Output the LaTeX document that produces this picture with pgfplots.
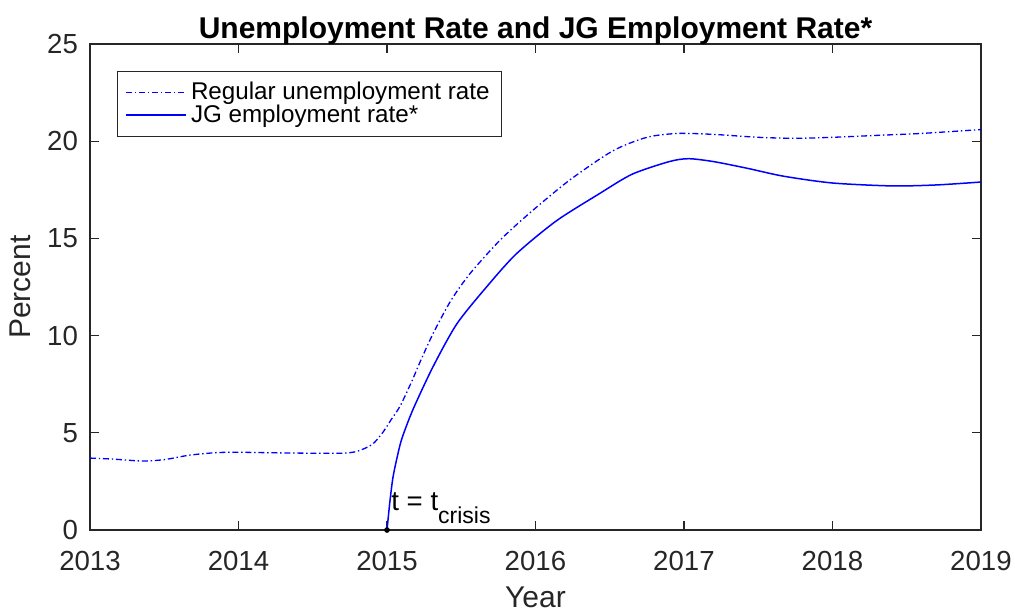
\documentclass[border=0pt]{standalone}
\usepackage{fontspec}
\setmainfont{Liberation Sans}
\usepackage{pgfplots}
\pgfplotsset{compat=1.18}
\definecolor{axisgray}{RGB}{38,38,38}
\definecolor{lineblue}{RGB}{0,0,255}

\begin{document}
\begin{tikzpicture}
\begin{axis}[
    width=445.5pt, height=243pt, scale only axis,
    xmin=2013, xmax=2019, ymin=0, ymax=25,
    xtick={2013,2014,...,2019}, ytick={0,5,...,25},
    /pgf/number format/assume math mode=true,
    x tick label style={/pgf/number format/1000 sep={}},
    tick align=inside, major tick length=4.5pt,
    axis line style={draw=axisgray, line width=0.6pt},
    every tick/.style={axisgray, line width=0.6pt},
    ticklabel style={font=\fontsize{13.8}{16}\selectfont, text=axisgray},
    xticklabel style={yshift=-7pt},
    yticklabel style={xshift=-2.5pt},
    label style={font=\fontsize{15}{18}\selectfont, text=axisgray},
    xlabel={Year}, ylabel={Percent},
    xlabel shift=1.5pt, ylabel shift=1.5pt,
    title={Unemployment Rate and JG Employment Rate*},
    title style={font=\bfseries\fontsize{15}{18}\selectfont, yshift=-10pt},
    legend style={at={(axis description cs:0.0303,0.9444)}, anchor=north west,
        font=\fontsize{12.1}{14}\selectfont, draw=axisgray,
        inner xsep=4pt, inner ysep=3.5pt, row sep=-3pt},
    legend cell align=left,
    legend image code/.code={\draw[#1, draw=lineblue, line width=0.8pt] (0pt,0pt) -- (30pt,0pt);},
    clip mode=individual,
]
\addplot[lineblue, line width=0.65pt, smooth, tension=0.45, dash pattern=on 3pt off 1.4pt on 0.7pt off 1.4pt] coordinates {
    (2013.00,3.70) (2013.15,3.65) (2013.35,3.55) (2013.50,3.62) (2013.67,3.85)
    (2013.85,3.98) (2014.00,4.00) (2014.25,3.97) (2014.50,3.95) (2014.70,3.95)
    (2014.80,4.05) (2014.90,4.40) (2014.97,5.00) (2015.03,5.70) (2015.09,6.40)
    (2015.17,7.70) (2015.22,8.60) (2015.31,10.1) (2015.43,11.8) (2015.56,13.2)
    (2015.76,14.9) (2015.96,16.3) (2016.23,18.0) (2016.52,19.5) (2016.75,20.2)
    (2016.96,20.4) (2017.20,20.35) (2017.50,20.2) (2017.75,20.15) (2018.00,20.2)
    (2018.30,20.3) (2018.60,20.4) (2019.00,20.6)
};
\addlegendentry{Regular unemployment rate}
\addplot[lineblue, line width=0.75pt, smooth, tension=0.45] coordinates {
    (2015.00,0) (2015.02,1.5) (2015.04,2.7) (2015.067,3.7) (2015.10,4.7)
    (2015.175,6.2) (2015.31,8.4) (2015.47,10.6) (2015.67,12.5) (2015.87,14.2)
    (2016.14,15.9) (2016.43,17.3) (2016.65,18.3) (2016.90,18.95) (2017.03,19.1)
    (2017.20,18.95) (2017.43,18.6) (2017.67,18.2) (2018.00,17.85) (2018.40,17.7)
    (2018.70,17.75) (2019.00,17.9)
};
\addlegendentry{JG employment rate*}
\addplot[black, only marks, mark=*, mark size=1.2pt, forget plot] coordinates {(2015,0)};
\node[anchor=base west, inner sep=0pt, font=\fontsize{13.8}{16}\selectfont]
    at (axis cs:2015.027,0.98) {t = t\raisebox{-6.5pt}{\fontsize{11.5}{13}\selectfont crisis}};
\end{axis}
\pgfresetboundingbox
\path ([xshift=-45pt,yshift=-41pt]current axis.south west) rectangle ([xshift=17pt,yshift=22pt]current axis.north east);
\end{tikzpicture}
\end{document}
